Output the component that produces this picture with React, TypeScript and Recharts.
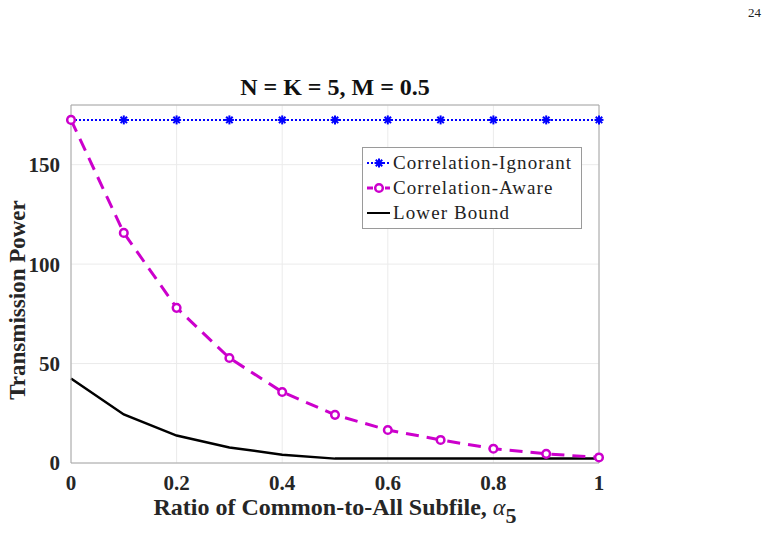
import React from "react";
import {
  LineChart,
  Line,
  XAxis,
  YAxis,
  CartesianGrid,
  ReferenceLine,
} from "recharts";

// x: ratio of common-to-all subfile (alpha_5)
const alphas = [0, 0.1, 0.2, 0.3, 0.4, 0.5, 0.6, 0.7, 0.8, 0.9, 1];
const ignorant = [172.5, 172.5, 172.5, 172.5, 172.5, 172.5, 172.5, 172.5, 172.5, 172.5, 172.5];
const aware = [172.5, 115.7, 78, 52.8, 35.7, 24.2, 16.6, 11.6, 7.2, 4.6, 2.8];
const lowerBound = [42.5, 24.4, 13.8, 7.8, 4.2, 2.2, 2.2, 2.2, 2.2, 2.2, 2.2];

const xTicks = [0, 0.2, 0.4, 0.6, 0.8, 1];
const yTicks = [0, 50, 100, 150];

const BLUE = "#0000ff";
const MAGENTA = "#cc00cc";
const SERIF = "'Liberation Serif', 'Times New Roman', serif";

const chartData = alphas.map((a, i) => ({
  alpha: a,
  ignorant: ignorant[i],
  aware: aware[i],
  lower: lowerBound[i],
}));

const StarDot = (props: any) => {
  const { cx, cy } = props;
  if (cx == null || cy == null) return null;
  const r = 4.5;
  const d = r * 0.72;
  return (
    <g stroke={BLUE} strokeWidth={2}>
      <line x1={cx - r} y1={cy} x2={cx + r} y2={cy} />
      <line x1={cx} y1={cy - r} x2={cx} y2={cy + r} />
      <line x1={cx - d} y1={cy - d} x2={cx + d} y2={cy + d} />
      <line x1={cx - d} y1={cy + d} x2={cx + d} y2={cy - d} />
    </g>
  );
};

const RingDot = (props: any) => {
  const { cx, cy } = props;
  if (cx == null || cy == null) return null;
  return <circle cx={cx} cy={cy} r={3.8} fill="#fff" stroke={MAGENTA} strokeWidth={2.5} />;
};

const legendRows = [
  { label: "Correlation-Ignorant", color: BLUE, dash: "2 2", width: 2, marker: "star" },
  { label: "Correlation-Aware", color: MAGENTA, dash: "6 3", width: 3, marker: "ring" },
  { label: "Lower Bound", color: "#000", dash: undefined, width: 2, marker: "none" },
];

const LegendBox = () => (
  <div
    style={{
      position: "absolute",
      left: 362,
      top: 147,
      width: 220,
      border: "1px solid #9a9a9a",
      background: "#fff",
      padding: "2px 3px 3px 3px",
      fontFamily: SERIF,
      fontSize: 19,
      letterSpacing: 1.1,
      lineHeight: "25px",
      color: "#222",
      boxSizing: "border-box",
    }}
  >
    {legendRows.map((r) => (
      <div key={r.label} style={{ display: "flex", alignItems: "center", whiteSpace: "nowrap" }}>
        <svg width={25} height={12} style={{ marginRight: 2 }}>
          <line x1={1} y1={6} x2={24} y2={6} stroke={r.color} strokeWidth={r.width} strokeDasharray={r.dash} />
          {r.marker === "star" && <StarDot cx={13} cy={6} />}
          {r.marker === "ring" && <RingDot cx={13} cy={6} />}
        </svg>
        <span>{r.label}</span>
      </div>
    ))}
  </div>
);

const XLabel = (props: any) => {
  const { viewBox } = props;
  const cx = viewBox.x + viewBox.width / 2;
  return (
    <text x={cx} y={515} textAnchor="middle" fontFamily={SERIF} fontWeight="bold" fontSize={24} fill="#262626">
      Ratio of Common-to-All Subfile,{" "}
      <tspan fontStyle="italic" fontWeight="normal">α</tspan>
      <tspan fontSize={22} dy={8}>5</tspan>
    </text>
  );
};

const YLabel = (props: any) => {
  const { viewBox } = props;
  const cy = viewBox.y + viewBox.height / 2 + 16;
  return (
    <text
      x={25}
      y={cy}
      transform={`rotate(-90 25 ${cy})`}
      textAnchor="middle"
      fontFamily={SERIF}
      fontWeight="bold"
      fontSize={23}
      fill="#262626"
    >
      Transmission Power
    </text>
  );
};

export default function App() {
  return (
    <div style={{ position: "absolute", left: 0, top: 0, width: 778, height: 533, background: "#fff" }}>
      <div style={{ position: "absolute", left: 748, top: 5, fontFamily: SERIF, fontSize: 13, color: "#222" }}>24</div>
      <div
        style={{
          position: "absolute",
          left: 71,
          width: 528,
          top: 74,
          textAlign: "center",
          fontFamily: SERIF,
          fontWeight: "bold",
          fontSize: 24,
          color: "#111",
        }}
      >
        N = K = 5, M = 0.5
      </div>
      <LineChart width={778} height={533} data={chartData} margin={{ top: 105, right: 179, bottom: 0, left: 0 }}>
        <CartesianGrid stroke="#ebebeb" strokeWidth={1} />
        <XAxis
          dataKey="alpha"
          type="number"
          domain={[0, 1]}
          ticks={xTicks}
          tickFormatter={(v) => String(v)}
          height={70}
          axisLine={{ stroke: "#a6a6a6" }}
          tickLine={false}
          tickMargin={6}
          tick={{ fontFamily: SERIF, fontWeight: "bold", fontSize: 21, fill: "#262626" }}
          label={<XLabel />}
        />
        <YAxis
          type="number"
          domain={[0, 180]}
          ticks={yTicks}
          width={71}
          axisLine={{ stroke: "#a6a6a6" }}
          tickLine={false}
          tickMargin={5}
          tick={{ fontFamily: SERIF, fontWeight: "bold", fontSize: 21, fill: "#262626" }}
          label={<YLabel />}
        />
        <ReferenceLine y={180} stroke="#a6a6a6" />
        <ReferenceLine x={1} stroke="#a6a6a6" />
        <Line
          dataKey="lower"
          stroke="#000"
          strokeWidth={2.5}
          dot={false}
          isAnimationActive={false}
        />
        <Line
          dataKey="ignorant"
          stroke={BLUE}
          strokeWidth={2}
          strokeDasharray="2 2"
          dot={<StarDot />}
          isAnimationActive={false}
        />
        <Line
          dataKey="aware"
          stroke={MAGENTA}
          strokeWidth={3}
          strokeDasharray="13 8"
          dot={<RingDot />}
          isAnimationActive={false}
        />
      </LineChart>
      <LegendBox />
    </div>
  );
}
